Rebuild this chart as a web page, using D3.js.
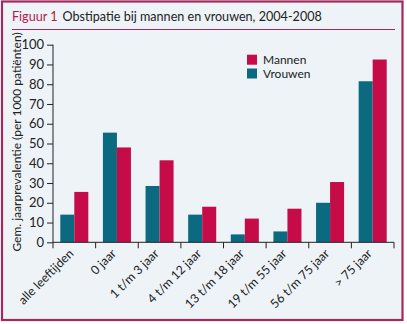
<!DOCTYPE html>
<html><head><meta charset="utf-8">
<script src="https://cdn.jsdelivr.net/npm/d3@7"></script>
<style>body{margin:0;background:#fff}svg{display:block}</style>
</head><body>
<script>
const categories = ["alle leeftijden","0 jaar","1 t/m 3 jaar","4 t/m 12 jaar","13 t/m 18 jaar","19 t/m 55 jaar","56 t/m 75 jaar","> 75 jaar"];
const vrouwen = [14, 55.5, 28.5, 14, 4, 5.5, 20, 81.5];
const mannen = [25.5, 48, 41.5, 18, 12, 17, 30.5, 92.5];
const yTicks = [0,10,20,30,40,50,60,70,80,90,100];
const seriesNames = ["Vrouwen","Mannen"];
const colors = {Mannen:"#c50c48", Vrouwen:"#0b6a80"};
const font = "Lato, 'Open Sans', sans-serif";

const W=407,H=324;
const svg=d3.select("body").append("svg").attr("width",W).attr("height",H);
svg.append("rect").attr("x",2).attr("y",1.5).attr("width",400.5).attr("height",318.5)
  .attr("fill","#edf3f7").attr("stroke","#a02a5c").attr("stroke-width",2.2);

// title
const t=svg.append("text").attr("x",12).attr("y",21).attr("font-family",font).attr("font-size",12.6).attr("fill","#222");
t.append("tspan").attr("fill","#b5174f").text("Figuur 1");
t.append("tspan").attr("dx",5).text("Obstipatie bij mannen en vrouwen, 2004-2008");
svg.append("line").attr("x1",12).attr("x2",395).attr("y1",29.5).attr("y2",29.5).attr("stroke","#a02a5c").attr("stroke-width",1);

const x0=d3.scaleBand().domain(categories).range([53,394]).paddingInner(0).paddingOuter(0);
const x1=d3.scaleBand().domain(seriesNames).range([0,x0.bandwidth()]).paddingInner(0).paddingOuter(0.52);
const y=d3.scaleLinear().domain([0,100]).range([242.3,44.7]);

const data=categories.map((c,i)=>({c, Vrouwen:vrouwen[i], Mannen:mannen[i]}));
const g=svg.append("g");
data.forEach(d=>{
  seriesNames.forEach(s=>{
    g.append("rect").attr("x",x0(d.c)+x1(s)).attr("width",x1.bandwidth())
      .attr("y",y(d[s])).attr("height",y(0)-y(d[s])).attr("fill",colors[s]);
  });
});

// y axis
const ya=svg.append("g").attr("transform","translate(53,0)")
  .call(d3.axisLeft(y).tickValues(yTicks).tickSize(6).tickPadding(3));
ya.select(".domain").attr("stroke","#222").attr("d","M0,"+y(100)+"V"+y(0));
ya.selectAll(".tick line").attr("stroke","#222");
ya.selectAll("text").attr("font-family",font).attr("font-size",13).attr("fill","#222");

// x axis
const xa=svg.append("g").attr("transform","translate(0,"+y(0)+")");
xa.append("line").attr("x1",53).attr("x2",394).attr("stroke","#222");
const bounds=categories.map(c=>x0(c)).concat([x0.range()[1]]);
xa.selectAll("line.tk").data(bounds).join("line").attr("class","tk")
  .attr("x1",d=>d).attr("x2",d=>d).attr("y1",0).attr("y2",6).attr("stroke","#222");
xa.selectAll("text").data(categories).join("text")
  .attr("transform",d=>"translate("+(x0(d)+x0.bandwidth()/2)+",12) rotate(-45)")
  .attr("text-anchor","end").attr("font-family",font).attr("font-size",12.3).attr("fill","#222").text(d=>d);

// y label
svg.append("text").attr("transform","translate(21,142) rotate(-90)").attr("text-anchor","middle")
  .attr("font-family",font).attr("font-size",12).attr("fill","#222").text("Gem. jaarprevalentie (per 1000 patiënten)");

// legend
const leg=[["Mannen",54.7],["Vrouwen",68.5]];
leg.forEach(([n,yy])=>{
  svg.append("rect").attr("x",247).attr("y",yy).attr("width",10).attr("height",10).attr("fill",colors[n]);
  svg.append("text").attr("x",263).attr("y",yy+9.5).attr("font-family",font).attr("font-size",12).attr("fill","#222").text(n);
});
</script>
</body></html>
